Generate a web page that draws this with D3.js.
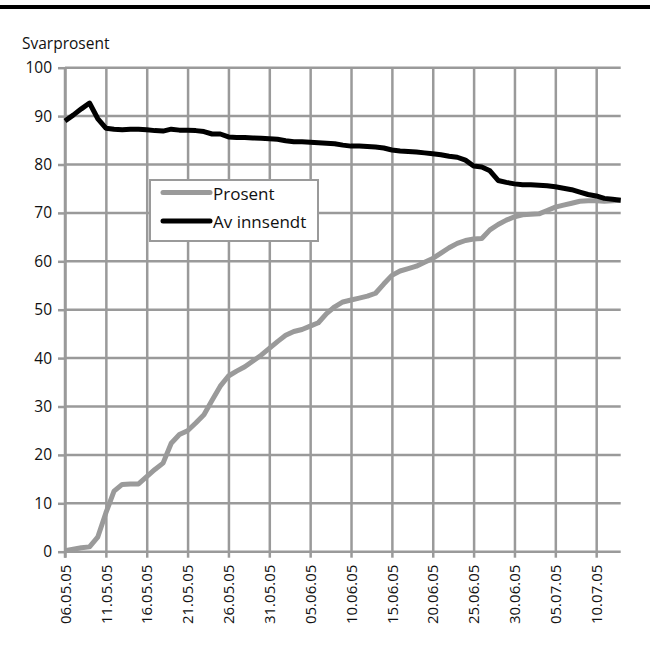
<!DOCTYPE html>
<html lang="no">
    <head>
        <meta charset="utf-8">
        <title>Svarprosent</title>
        <script type="text/javascript" src="https://d3js.org/d3.v7.min.js"></script>
        <style type="text/css">
            body { margin: 0; background: #fff; }
            text { font-family: "Open Sans", "Noto Sans", sans-serif; fill: #111; }
        </style>
    </head>
    <body>
        <script type="text/javascript">

                const width = 650;
                const height = 651;

                // one point per day, 06.05.05 - 13.07.05
                const startDate = "06.05.05";
                const dayCount = 69;

                const prosent = [
                    0.2, 0.5, 0.8, 1.0, 3.0, 8.0, 12.5, 13.9, 14.0, 14.0,
                    15.5, 17.0, 18.3, 22.4, 24.2, 25.0, 26.6, 28.3, 31.3, 34.2,
                    36.3, 37.3, 38.2, 39.4, 40.6, 42.0, 43.4, 44.7, 45.5, 45.9,
                    46.6, 47.3, 49.2, 50.6, 51.6, 52.0, 52.4, 52.8, 53.4, 55.3,
                    57.1, 58.0, 58.5, 59.0, 59.8, 60.6, 61.7, 62.8, 63.7, 64.3,
                    64.6, 64.7, 66.5, 67.6, 68.5, 69.2, 69.6, 69.7, 69.8, 70.5,
                    71.2, 71.6, 72.0, 72.4, 72.5, 72.5, 72.4, 72.5, 72.6
                ];

                const avInnsendt = [
                    89.0, 90.2, 91.5, 92.7, 89.5, 87.5, 87.3, 87.2, 87.3, 87.3,
                    87.2, 87.0, 86.9, 87.3, 87.1, 87.1, 87.0, 86.8, 86.3, 86.3,
                    85.7, 85.6, 85.6, 85.5, 85.4, 85.3, 85.2, 84.9, 84.7, 84.7,
                    84.6, 84.5, 84.4, 84.3, 84.0, 83.8, 83.8, 83.7, 83.6, 83.4,
                    83.0, 82.8, 82.7, 82.6, 82.4, 82.2, 82.0, 81.7, 81.5, 80.9,
                    79.7, 79.5, 78.7, 76.7, 76.3, 76.0, 75.8, 75.8, 75.7, 75.6,
                    75.4, 75.1, 74.8, 74.3, 73.8, 73.5, 73.0, 72.8, 72.6
                ];

                const yTicks = [0, 10, 20, 30, 40, 50, 60, 70, 80, 90, 100];
                const seriesNames = ["Prosent", "Av innsendt"];
                const seriesColors = ["#9a9a9a", "#000000"];

                const parse = d3.timeParse("%d.%m.%y");
                const fmt = d3.timeFormat("%d.%m.%y");
                const days = d3.range(dayCount).map(i => d3.timeDay.offset(parse(startDate), i));
                const tickDays = days.filter((d, i) => i % 5 === 0);

                const plotLeft = 65, plotRight = 620.7, plotTop = 67.7, plotBottom = 551.7;

                const xScale = d3.scaleTime()
                                 .domain([days[0], days[days.length - 1]])
                                 .range([plotLeft, plotRight]);

                const yScale = d3.scaleLinear()
                                 .domain([0, 100])
                                 .range([plotBottom, plotTop]);

                const svg = d3.select("body")
                              .append("svg")
                              .attr("width", width)
                              .attr("height", height);

                // black rule at the top
                svg.append("rect")
                   .attr("x", 0).attr("y", 5)
                   .attr("width", width).attr("height", 4)
                   .attr("fill", "#000");

                svg.append("text")
                   .attr("x", 22).attr("y", 49)
                   .attr("font-size", 15.5)
                   .text("Svarprosent");

                // vertical gridlines
                svg.append("g")
                   .attr("transform", "translate(0," + plotBottom + ")")
                   .call(d3.axisBottom(xScale)
                           .tickValues(tickDays)
                           .tickSize(-(plotBottom - plotTop))
                           .tickSizeOuter(0)
                           .tickFormat(""))
                   .call(g => g.select(".domain").remove())
                   .call(g => g.selectAll("line").attr("stroke", "#9a9a9a").attr("stroke-width", 2.5));

                // x axis with rotated labels
                const xAxis = svg.append("g")
                   .attr("transform", "translate(0," + plotBottom + ")")
                   .call(d3.axisBottom(xScale)
                           .tickValues(tickDays)
                           .tickSize(6)
                           .tickSizeOuter(0)
                           .tickFormat(fmt));
                xAxis.select(".domain").remove();
                xAxis.selectAll("line").attr("stroke", "#9a9a9a").attr("stroke-width", 2.5);
                xAxis.selectAll("text")
                     .attr("font-size", 15)
                     .attr("fill", "#111")
                     .attr("transform", "rotate(-90)")
                     .attr("text-anchor", "end")
                     .attr("x", -13)
                     .attr("y", 0)
                     .attr("dy", "0.35em");

                // y labels and small outer ticks
                const yAxis = svg.append("g")
                   .attr("transform", "translate(" + plotLeft + ",0)")
                   .call(d3.axisLeft(yScale)
                           .tickValues(yTicks)
                           .tickSize(7));
                yAxis.select(".domain").remove();
                yAxis.selectAll("line").attr("stroke", "#9a9a9a").attr("stroke-width", 2.5);
                yAxis.selectAll("text").attr("font-size", 15.5).attr("fill", "#111").attr("x", -13);

                // horizontal gridlines
                svg.append("g")
                   .selectAll("line")
                   .data(yTicks)
                   .join("line")
                   .attr("x1", plotLeft).attr("x2", plotRight)
                   .attr("y1", d => yScale(d)).attr("y2", d => yScale(d))
                   .attr("stroke", "#9a9a9a")
                   .attr("stroke-width", 2.5);

                // left axis line
                svg.append("line")
                   .attr("x1", plotLeft).attr("x2", plotLeft)
                   .attr("y1", plotTop).attr("y2", plotBottom + 6)
                   .attr("stroke", "#9a9a9a").attr("stroke-width", 2.5);

                const line = d3.line()
                               .x((d, i) => xScale(days[i]))
                               .y(d => yScale(d));

                [prosent, avInnsendt].forEach((s, k) => {
                    svg.append("path")
                       .datum(s)
                       .attr("d", line)
                       .attr("fill", "none")
                       .attr("stroke", seriesColors[k])
                       .attr("stroke-width", 5)
                       .attr("stroke-linejoin", "round");
                });

                // legend
                const legend = svg.append("g");
                legend.append("rect")
                      .attr("x", 150).attr("y", 180)
                      .attr("width", 168).attr("height", 61)
                      .attr("fill", "#fff")
                      .attr("stroke", "#9a9a9a")
                      .attr("stroke-width", 2);

                seriesNames.forEach((name, k) => {
                    const ly = 192.5 + k * 28.5;
                    legend.append("line")
                          .attr("x1", 163).attr("x2", 210)
                          .attr("y1", ly).attr("y2", ly)
                          .attr("stroke", seriesColors[k])
                          .attr("stroke-width", 5)
                          .attr("stroke-linecap", "round");
                    legend.append("text")
                          .attr("x", 213).attr("y", ly + 7)
                          .attr("font-size", 17)
                          .text(name);
                });

        </script>
    </body>
</html>
